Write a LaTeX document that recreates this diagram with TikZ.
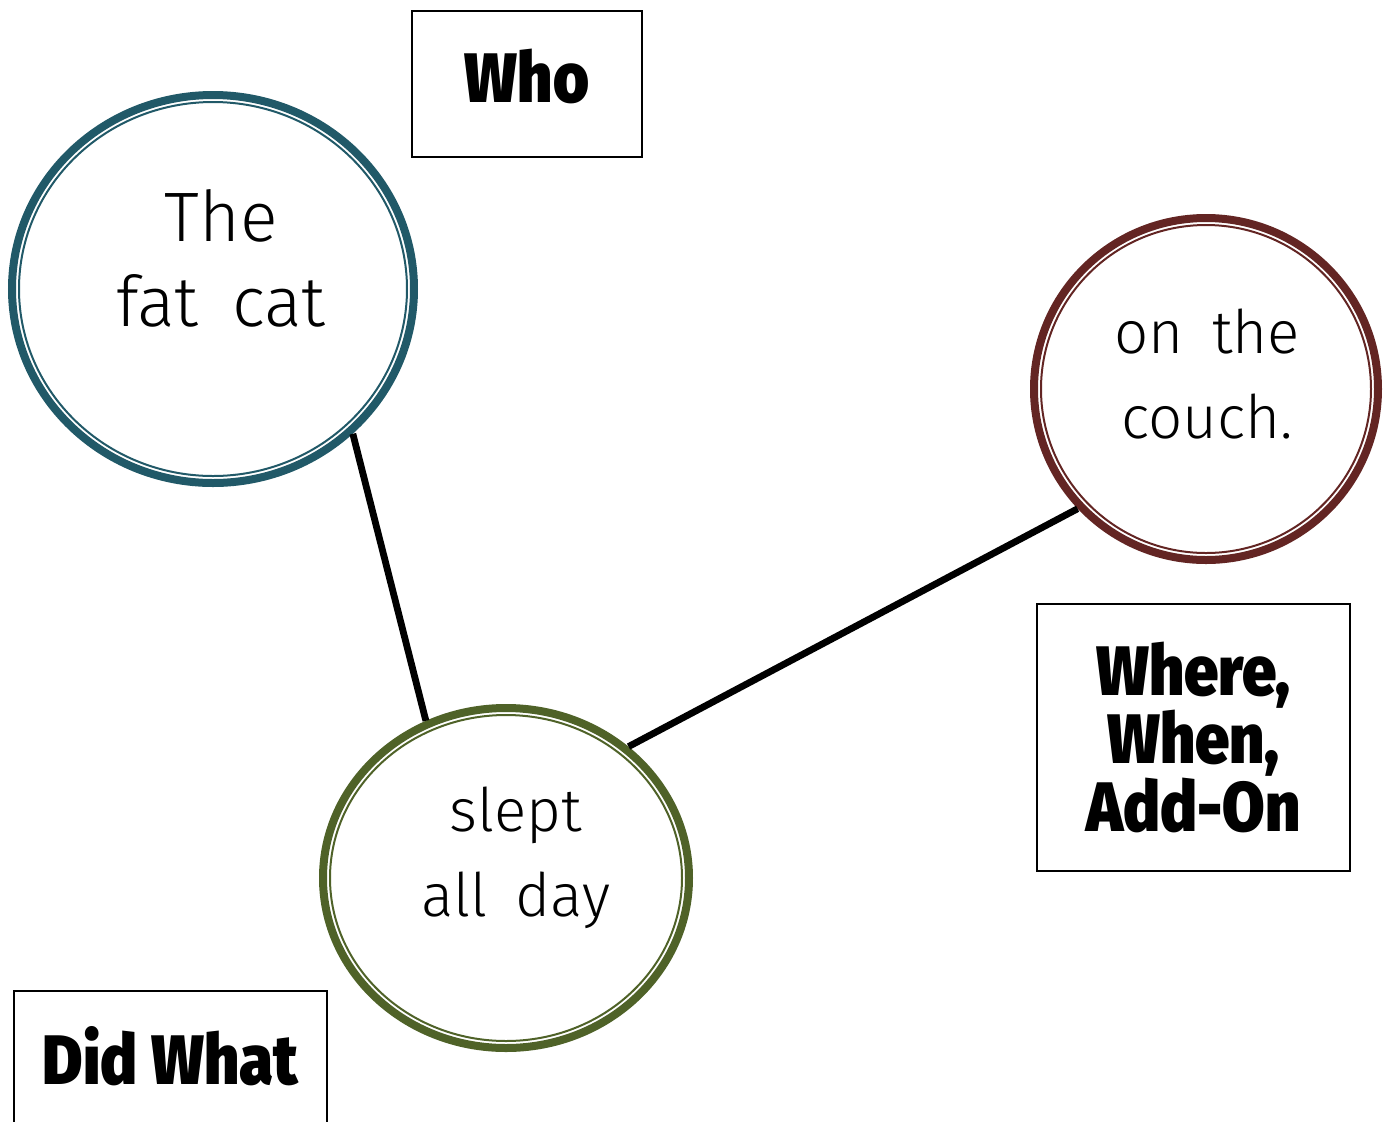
\documentclass[tikz,border=0pt]{standalone}
\usepackage{fontspec}
\usetikzlibrary{shapes.geometric}
\IfFontExistsTF{Fira Sans Light}
  {\newfontfamily\handfont[WordSpace=1.7]{Fira Sans Light}}
  {\IfFontExistsTF{Lato Light}
    {\newfontfamily\handfont[WordSpace=1.7]{Lato Light}}
    {\newfontfamily\handfont[WordSpace=1.7]{Fira Sans}}}
\IfFontExistsTF{Fira Sans Black}
  {\newfontfamily\labfont[FakeStretch=0.88]{Fira Sans Black}}
  {\IfFontExistsTF{Fira Sans Heavy}
    {\newfontfamily\labfont[FakeStretch=0.88]{Fira Sans Heavy}}
    {\IfFontExistsTF{Fira Sans ExtraBold}
      {\newfontfamily\labfont[FakeStretch=0.88,FakeBold=1.5]{Fira Sans ExtraBold}}
      {\newfontfamily\labfont[FakeStretch=0.88,FakeBold=3]{Fira Sans Bold}}}}
\definecolor{ringblue}{HTML}{215968}
\definecolor{ringred}{HTML}{632523}
\definecolor{ringgreen}{HTML}{4F6228}
\tikzset{
  ringnode/.style={ellipse, inner sep=0pt, outer sep=0pt, draw=none},
  handtext/.style={align=center, inner sep=0pt, font=\handfont\fontsize{35}{42.5}\selectfont},
  smallhand/.style={handtext, font=\handfont\fontsize{30}{42.5}\selectfont},
  labbox/.style={draw=black, line width=1pt, align=center, inner sep=0pt,
    font=\labfont\fontsize{35}{34}\selectfont},
  conn/.style={line width=3.4pt, black},
}
\newcommand\ringdraw[5]{%
  \draw[#2, line width=4pt] (#1.center) ellipse [x radius=#3-4, y radius=#4-4];
  \draw[#2, line width=1pt] (#1.center) ellipse [x radius=#3-11, y radius=#4-11];
}
\begin{document}
\begin{tikzpicture}[x=0.5pt,y=-0.5pt]
\useasboundingbox (0,0) rectangle (1389,1121);
% circles
\node[ringnode, minimum width=205pt, minimum height=198pt] (who) at (213,289) {};
\node[ringnode, minimum width=176pt, minimum height=175pt] (where) at (1206,389) {};
\node[ringnode, minimum width=187pt, minimum height=174pt] (what) at (506,878) {};
\ringdraw{who}{ringblue}{205}{198}{}
\ringdraw{where}{ringred}{176}{175}{}
\ringdraw{what}{ringgreen}{187}{174}{}
% texts
\node[handtext] (whotext) at (221,258) {The\\fat cat};
\node[smallhand] (wheretext) at (1207,374) {on the\\couch.};
\node[smallhand] (whattext) at (516,858) {slept\\all day};
% connectors
\draw[conn] (who.-46) -- (what.117.3);
\draw[conn] (what.47.3) -- (where.-137.9);
% label boxes
\node[labbox, minimum width=115pt, minimum height=73pt, text depth=8pt] (wholab) at (527,84) {Who};
\node[labbox, minimum width=156.5pt, minimum height=133.5pt] (wherelab) at (1193.5,737.5) {Where,\\When,\\Add-On};
\node[labbox, minimum width=156.5pt, minimum height=70pt, text depth=6pt] (whatlab) at (170.5,1061) {Did What};
\end{tikzpicture}
\end{document}
